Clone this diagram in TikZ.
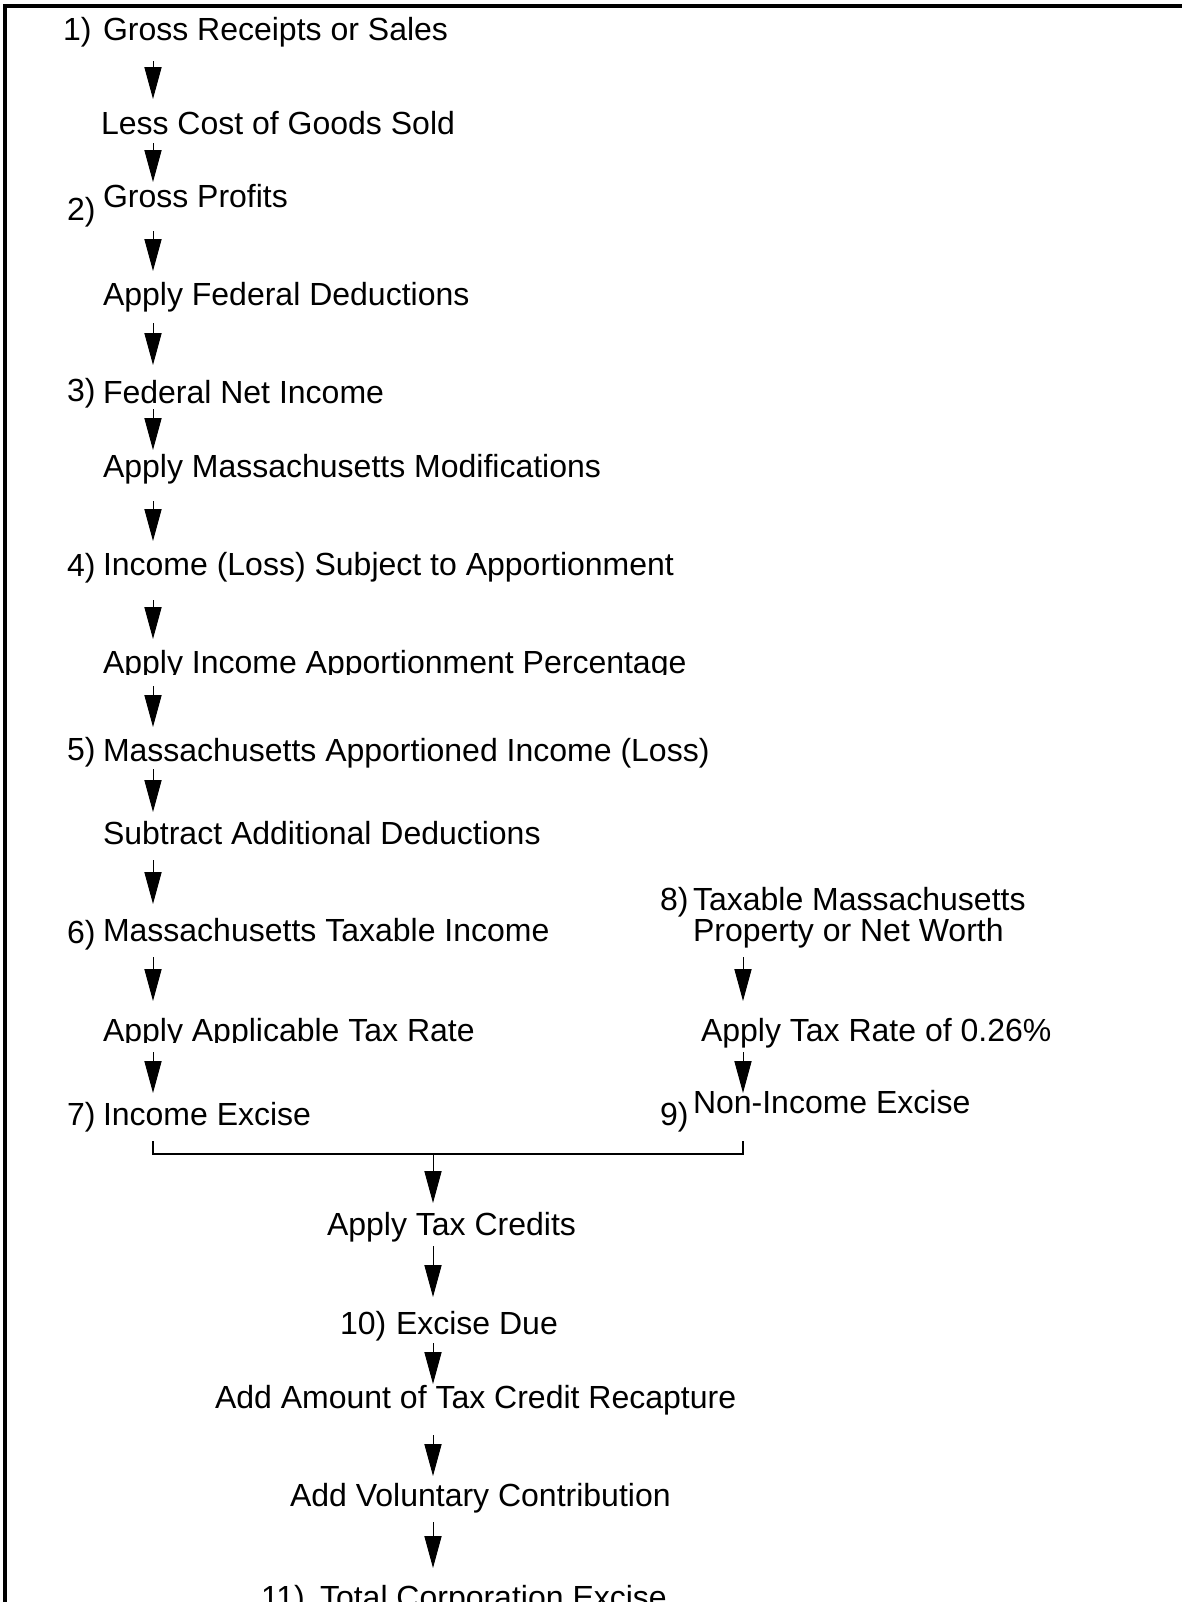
\documentclass[tikz,border=0pt]{standalone}
\usepackage{fontspec}
\setmainfont{Liberation Sans}
\usetikzlibrary{arrows.meta,calc}
\tikzset{
  txt/.style={anchor=base west, inner sep=0pt, outer sep=0pt, font=\fontsize{16pt}{19pt}\selectfont},
  arr/.style={line width=0.5pt, -{Triangle[length=16pt,width=8.6pt]}},
  frameline/.style={line width=1.6pt},
  joinline/.style={line width=0.6pt}
}
\begin{document}
\begin{tikzpicture}[x=0.5pt,y=-0.5pt]
\useasboundingbox (0,0) rectangle (1182,1602);
% frame
\draw[frameline] (5,1610) -- (5,6) -- (1190,6);
% columns
\coordinate (colA) at (153,0);
\coordinate (colB) at (743,0);
\coordinate (colC) at (433,0);
% left column
\node[txt] (l1) at (63,40) {1)};
\node[txt] (n1) at (103,40) {Gross Receipts or Sales};
\node[txt] (n2) at (101,134) {Less Cost of Goods Sold};
\node[txt] (l2) at (67,220) {2)};
\node[txt] (n3) at (103,207) {Gross Profits};
\node[txt] (n4) at (103,305) {Apply Federal Deductions};
\node[txt] (l3) at (67,401) {3)};
\node[txt] (n5) at (103,403) {Federal Net Income};
\node[txt] (n6) at (103,477) {Apply Massachusetts Modifications};
\node[txt] (l4) at (67,576) {4)};
\node[txt] (n7) at (103,575) {Income (Loss) Subject to Apportionment};
\begin{scope}
\clip (0,600) rectangle (1182,674);
\node[txt] (n8) at (103,673) {Apply Income Apportionment Percentage};
\end{scope}
\node[txt] (l5) at (67,760) {5)};
\node[txt] (n9) at (103,761) {Massachusetts Apportioned Income (Loss)};
\node[txt] (n10) at (103,844) {Subtract Additional Deductions};
\node[txt] (l6) at (67,943) {6)};
\node[txt] (n11) at (103,941) {Massachusetts Taxable Income};
\begin{scope}
\clip (0,980) rectangle (660,1042);
\node[txt] (n12) at (103,1041) {Apply Applicable Tax Rate};
\end{scope}
\node[txt] (l7) at (67,1125) {7)};
\node[txt] (n13) at (103,1125) {Income Excise};
% right column
\node[txt] (l8) at (660,910) {8)};
\node[txt] (n14a) at (693,910) {Taxable Massachusetts};
\node[txt] (n14b) at (693,941) {Property or Net Worth};
\node[txt] (n15) at (701,1041) {Apply Tax Rate of 0.26\%};
\node[txt] (l9) at (660,1125) {9)};
\node[txt] (n16) at (693,1113) {Non-Income Excise};
% bottom column
\node[txt] (n17) at (327,1235) {Apply Tax Credits};
\node[txt] (l10) at (340,1334) {10)};
\node[txt] (n18) at (396,1334) {Excise Due};
\node[txt] (n19) at (215,1408) {Add Amount of Tax Credit Recapture};
\node[txt] (n20) at (290,1506) {Add Voluntary Contribution};
\node[txt] (l11) at (261,1608) {11)};
\node[txt] (n21) at (320,1608) {Total Corporation Excise};
% arrows left
\draw[arr] ($(colA |- n1.base)+(0,21)$) -- ($(colA |- n2.base)+(0,-35)$);
\draw[arr] ($(colA |- n2.base)+(0,9)$) -- ($(colA |- n3.base)+(0,-25)$);
\draw[arr] ($(colA |- n3.base)+(0,24)$) -- ($(colA |- n4.base)+(0,-34)$);
\draw[arr] ($(colA |- n4.base)+(0,18)$) -- ($(colA |- n5.base)+(0,-38)$);
\draw[arr] ($(colA |- n5.base)+(0,6)$) -- ($(colA |- n6.base)+(0,-27)$);
\draw[arr] ($(colA |- n6.base)+(0,24)$) -- ($(colA |- n7.base)+(0,-34)$);
\draw[arr] ($(colA |- n7.base)+(0,25)$) -- ($(colA |- n8.base)+(0,-34)$);
\draw[arr] ($(colA |- n8.base)+(0,13)$) -- ($(colA |- n9.base)+(0,-34)$);
\draw[arr] ($(colA |- n9.base)+(0,8)$) -- ($(colA |- n10.base)+(0,-32)$);
\draw[arr] ($(colA |- n10.base)+(0,16)$) -- ($(colA |- n11.base)+(0,-37)$);
\draw[arr] ($(colA |- n11.base)+(0,16)$) -- ($(colA |- n12.base)+(0,-40)$);
\draw[arr] ($(colA |- n12.base)+(0,11)$) -- ($(colA |- n13.base)+(0,-32)$);
% arrows right
\draw[arr] ($(colB |- n14b.base)+(0,16)$) -- ($(colB |- n15.base)+(0,-40)$);
\draw[arr] ($(colB |- n15.base)+(0,11)$) -- ($(colB |- n16.base)+(0,-20)$);
% join
\coordinate (jn) at ($(colC |- n13.base)+(0,29)$);
\draw[joinline] ($(colA |- n13.base)+(0,16)$) -- ($(colA |- n13.base)+(0,29)$) -- ($(colB |- n13.base)+(0,29)$) -- ($(colB |- n16.base)+(0,28)$);
\draw[arr] (jn) -- ($(colC |- n17.base)+(0,-32)$);
% arrows bottom
\draw[arr] ($(colC |- n17.base)+(0,11)$) -- ($(colC |- n18.base)+(0,-37)$);
\draw[arr] ($(colC |- n18.base)+(0,9)$) -- ($(colC |- n19.base)+(0,-24)$);
\draw[arr] ($(colC |- n19.base)+(0,27)$) -- ($(colC |- n20.base)+(0,-30)$);
\draw[arr] ($(colC |- n20.base)+(0,16)$) -- ($(colC |- n21.base)+(0,-40)$);
\end{tikzpicture}
\end{document}
